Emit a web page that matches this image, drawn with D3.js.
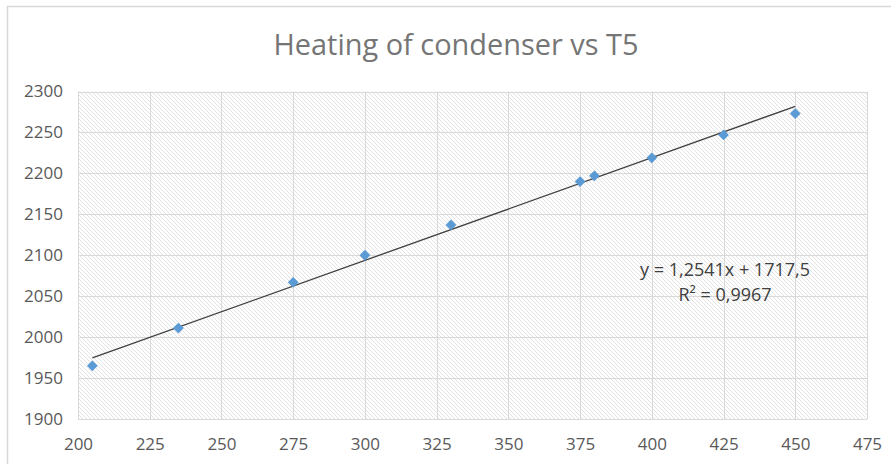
<!DOCTYPE html>
<html>
<head>
<meta charset="utf-8">
<script src="https://cdn.jsdelivr.net/npm/d3@7"></script>
<style>
  html, body { margin: 0; padding: 0; background: #fff; }
  #chart { width: 891px; height: 464px; }
  text { font-family: "Open Sans", "Noto Sans", sans-serif; }
</style>
</head>
<body>
<div id="chart"></div>
<script>
//Datos
const t5Values = [205, 235, 275, 300, 330, 375, 380, 400, 425, 450];
const heatingValues = [1965, 2011, 2067, 2100, 2137, 2190, 2197, 2219, 2247, 2273];
const xTicks = [200, 225, 250, 275, 300, 325, 350, 375, 400, 425, 450, 475];
const yTicks = [1900, 1950, 2000, 2050, 2100, 2150, 2200, 2250, 2300];
const trendSlope = 1.2541, trendIntercept = 1717.5;
const trendLabel = ['y = 1,2541x + 1717,5', 'R² = 0,9967'];
const chartTitle = 'Heating of condenser vs T5';

const COLOR_POINT = '#5B9BD5',
  COLOR_GRID = '#d9d9d9',
  COLOR_TEXT = '#595959',
  COLOR_TITLE = '#757575',
  COLOR_TREND = '#404040';

let width = 891, height = 464;
let plot = {left: 78, right: 867, top: 91.5, bottom: 419};

let svg = d3.select('#chart').append('svg')
  .attr('width', width)
  .attr('height', height);

//Trama diagonal del área de trazado
let defs = svg.append('defs');
defs.append('pattern')
  .attr('id', 'hatch')
  .attr('patternUnits', 'userSpaceOnUse')
  .attr('width', 4).attr('height', 4)
  .call(p => {
    p.append('rect').attr('width', 4).attr('height', 4).attr('fill', '#fff');
    p.append('path')
      .attr('d', 'M-1,-1 L5,5 M-1,3 L1,5 M3,-1 L5,1')
      .attr('stroke', '#dcdcdc')
      .attr('stroke-width', 0.8);
  });

//Borde exterior del gráfico
svg.append('rect')
  .attr('x', 7.5).attr('y', 6.5)
  .attr('width', 950).attr('height', 500)
  .attr('fill', 'none')
  .attr('stroke', COLOR_GRID)
  .attr('stroke-width', 1.5);

let x = d3.scaleLinear().domain([200, 475]).range([plot.left, plot.right]);
let y = d3.scaleLinear().domain([1900, 2300]).range([plot.bottom, plot.top]);

svg.append('rect')
  .attr('x', plot.left).attr('y', plot.top)
  .attr('width', plot.right - plot.left)
  .attr('height', plot.bottom - plot.top)
  .attr('fill', 'url(#hatch)');

//Rejilla
let grid = svg.append('g').attr('stroke', COLOR_GRID).attr('stroke-width', 1);
grid.selectAll('.gx').data(xTicks).enter().append('line')
  .attr('x1', d => Math.round(x(d)) + 0.5).attr('x2', d => Math.round(x(d)) + 0.5)
  .attr('y1', plot.top).attr('y2', plot.bottom);
grid.selectAll('.gy').data(yTicks).enter().append('line')
  .attr('x1', plot.left).attr('x2', plot.right)
  .attr('y1', d => Math.round(y(d)) + 0.5).attr('y2', d => Math.round(y(d)) + 0.5);

//Ejes (solo etiquetas)
let xAxis = svg.append('g')
  .attr('transform', 'translate(0,' + (plot.bottom + 19) + ')')
  .call(d3.axisBottom(x).tickValues(xTicks).tickFormat(d3.format('d')).tickSize(0).tickPadding(0));
let yAxis = svg.append('g')
  .attr('transform', 'translate(' + (plot.left - 15) + ',0)')
  .call(d3.axisLeft(y).tickValues(yTicks).tickFormat(d3.format('d')).tickSize(0).tickPadding(0));
[xAxis, yAxis].forEach(a => {
  a.select('.domain').remove();
  a.selectAll('text')
    .attr('fill', COLOR_TEXT)
    .style('font-size', '17px')
    .style('font-family', '"Open Sans", sans-serif');
});
xAxis.selectAll('text').attr('dy', '0.71em');

//Línea de tendencia
let trendX = d3.extent(t5Values);
svg.append('line')
  .attr('x1', x(trendX[0])).attr('y1', y(trendSlope * trendX[0] + trendIntercept))
  .attr('x2', x(trendX[1])).attr('y2', y(trendSlope * trendX[1] + trendIntercept))
  .attr('stroke', COLOR_TREND)
  .attr('stroke-width', 1.3);

//Puntos
svg.append('g').selectAll('path')
  .data(t5Values.map((d, i) => [d, heatingValues[i]]))
  .enter().append('path')
  .attr('d', d3.symbol().type(d3.symbolSquare).size(58))
  .attr('transform', d => 'translate(' + x(d[0]) + ',' + y(d[1]) + ') rotate(45)')
  .attr('fill', COLOR_POINT);

//Ecuación
svg.append('g').selectAll('text')
  .data(trendLabel)
  .enter().append('text')
  .attr('x', 725)
  .attr('y', (d, i) => 276 + i * 25)
  .attr('text-anchor', 'middle')
  .attr('fill', COLOR_TREND)
  .style('font-size', '18px')
  .text(d => d);

//Título
svg.append('text')
  .attr('x', 456).attr('y', 55)
  .attr('text-anchor', 'middle')
  .attr('fill', COLOR_TITLE)
  .attr('textLength', 365)
  .attr('lengthAdjust', 'spacingAndGlyphs')
  .style('font-size', '29px')
  .text(chartTitle);
</script>
</body>
</html>
